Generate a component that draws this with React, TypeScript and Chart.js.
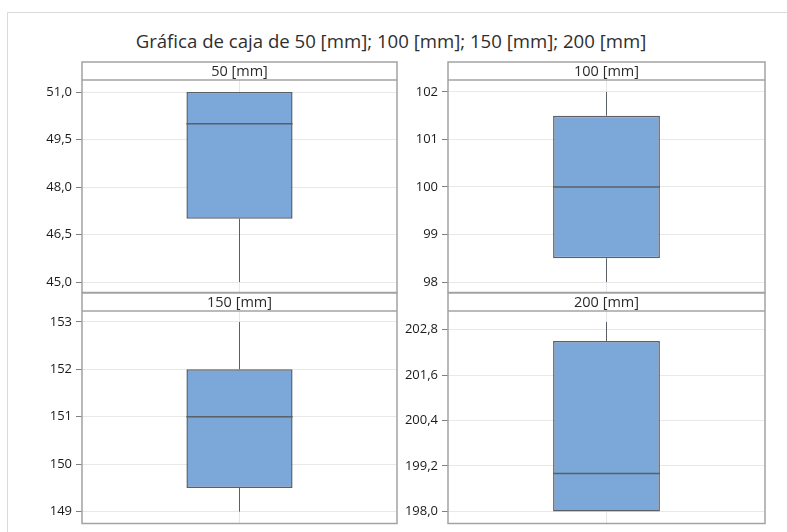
import React, { useEffect, useRef } from "react";
import { Chart, registerables } from "chart.js";

Chart.register(...registerables);

// Box plot summaries, one entry per sample
const panelNames = ["50 [mm]", "100 [mm]", "150 [mm]", "200 [mm]"];
const minValues = [45, 98, 149, 198];
const q1Values = [47, 98.5, 149.5, 198];
const medianValues = [50, 100, 151, 199];
const q3Values = [51, 101.5, 152, 202.5];
const maxValues = [51, 102, 153, 203];

// Value axis of each panel
const axisMin = [44.67, 97.78, 148.75, 197.68];
const axisMax = [51.38, 102.25, 153.23, 203.29];
const ticks50 = [45, 46.5, 48, 49.5, 51];
const ticks100 = [98, 99, 100, 101, 102];
const ticks150 = [149, 150, 151, 152, 153];
const ticks200 = [198, 199.2, 200.4, 201.6, 202.8];
const tickSets = [ticks50, ticks100, ticks150, ticks200];
const tickDecimals = [1, 0, 0, 1];

const titleText = "Gráfica de caja de 50 [mm]; 100 [mm]; 150 [mm]; 200 [mm]";

const FONT = "'Open Sans', 'Noto Sans', sans-serif";
const HEADER_H = 18;
const AXIS_W = 74;
const FRAME = "#a3a3a3";

// Plot rectangles (left, top, right, bottom) of the 2x2 grid
const panelRects = [
  [82, 80, 397, 292.5],
  [448, 80, 764.5, 292.5],
  [82, 310.5, 397, 523],
  [448, 310.5, 764.5, 523],
];

const formatTick = (v: number, d: number) => v.toFixed(d).replace(".", ",");

const boxPlugin = {
  id: "boxWhiskers",
  afterDatasetsDraw(chart: any, _args: any, opts: any) {
    const i = opts.index as number;
    const y = chart.scales.y;
    const bar = chart.getDatasetMeta(0).data[0];
    if (!bar) return;
    const x = bar.x;
    const half = bar.width / 2;
    const ctx = chart.ctx;
    ctx.save();
    ctx.strokeStyle = "#5b5f66";
    ctx.lineWidth = 1;
    // whiskers
    const pMin = y.getPixelForValue(minValues[i]);
    const pQ1 = y.getPixelForValue(q1Values[i]);
    const pQ3 = y.getPixelForValue(q3Values[i]);
    const pMax = y.getPixelForValue(maxValues[i]);
    ctx.beginPath();
    if (pMin - pQ1 > 0.5) {
      ctx.moveTo(x, pQ1);
      ctx.lineTo(x, pMin);
    }
    if (pQ3 - pMax > 0.5) {
      ctx.moveTo(x, pQ3);
      ctx.lineTo(x, pMax);
    }
    ctx.stroke();
    // median
    const pMed = y.getPixelForValue(medianValues[i]);
    ctx.lineWidth = 1.5;
    ctx.beginPath();
    ctx.moveTo(x - half, pMed);
    ctx.lineTo(x + half, pMed);
    ctx.stroke();
    ctx.restore();
  },
  afterDraw(chart: any, _args: any, opts: any) {
    const i = opts.index as number;
    const { left, right, top, bottom } = chart.chartArea;
    const ctx = chart.ctx;
    ctx.save();
    ctx.fillStyle = "#ffffff";
    ctx.fillRect(left, top - HEADER_H, right - left, HEADER_H);
    ctx.strokeStyle = FRAME;
    ctx.lineWidth = 1.5;
    ctx.strokeRect(left, top - HEADER_H, right - left, bottom - top + HEADER_H);
    ctx.beginPath();
    ctx.moveTo(left, top);
    ctx.lineTo(right, top);
    ctx.stroke();
    ctx.fillStyle = "#2b2b2b";
    ctx.font = `14.5px ${FONT}`;
    ctx.textAlign = "center";
    ctx.textBaseline = "middle";
    ctx.fillText(panelNames[i], (left + right) / 2, top - HEADER_H / 2 + 1);
    ctx.restore();
  },
};

function BoxPanel({ index }: { index: number }) {
  const ref = useRef<HTMLCanvasElement | null>(null);
  const [L, T, R, B] = panelRects[index];
  const cLeft = L - AXIS_W;
  const cTop = T - HEADER_H - 2;
  const cWidth = Math.ceil(R - L + AXIS_W + 3);
  const cHeight = Math.ceil(B - cTop + 3);

  useEffect(() => {
    if (!ref.current) return;
    const tickVals = tickSets[index];
    const dec = tickDecimals[index];
    const chart = new Chart(ref.current, {
      type: "bar",
      data: {
        labels: [panelNames[index]],
        datasets: [
          {
            data: [[q1Values[index], q3Values[index]]] as any,
            backgroundColor: "#7ba7d9",
            borderColor: "#5b5f66",
            borderWidth: 1.5,
            borderSkipped: false,
            barPercentage: 0.337,
            categoryPercentage: 1,
          },
        ],
      },
      options: {
        responsive: false,
        animation: false,
        layout: {
          padding: { top: HEADER_H + 2, right: 3, left: 0, bottom: cHeight - (B - cTop) },
        },
        plugins: {
          legend: { display: false },
          tooltip: { enabled: false },
          title: { display: false },
          boxWhiskers: { index },
        } as any,
        scales: {
          x: {
            grid: { display: true, offset: false, color: "#e6e6e6", drawTicks: false },
            ticks: { display: false },
            border: { display: false },
            afterFit: (s: any) => {
              s.height = 0;
              s.paddingLeft = 0;
              s.paddingRight = 0;
            },
          },
          y: {
            min: axisMin[index],
            max: axisMax[index],
            afterBuildTicks: (s: any) => {
              s.ticks = tickVals.map((v) => ({ value: v }));
            },
            ticks: {
              callback: (v: any) => formatTick(Number(v), dec),
              color: "#1a1a1a",
              font: { family: FONT, size: 13 },
              padding: 4,
            },
            grid: { color: "#e8e8e8", tickColor: "#808080", tickLength: 6 },
            border: { display: false },
            afterFit: (s: any) => {
              s.width = AXIS_W;
              s.paddingTop = 0;
              s.paddingBottom = 0;
            },
          },
        },
      },
      plugins: [boxPlugin],
    });
    return () => chart.destroy();
  }, [index]);

  return (
    <canvas
      ref={ref}
      width={cWidth}
      height={cHeight}
      style={{ position: "absolute", left: cLeft, top: cTop, width: cWidth, height: cHeight }}
    />
  );
}

export default function App() {
  return (
    <div
      style={{
        position: "absolute",
        left: 0,
        top: 0,
        width: 787,
        height: 532,
        overflow: "hidden",
        background: "#ffffff",
      }}
    >
      <div
        style={{
          position: "absolute",
          left: 7,
          top: 12,
          width: 790,
          height: 530,
          borderTop: "1px solid #dadada",
          borderLeft: "1px solid #dadada",
        }}
      />
      <div
        style={{
          position: "absolute",
          left: 0,
          top: 29,
          width: 782,
          textAlign: "center",
          fontFamily: FONT,
          fontSize: 18.6,
          lineHeight: "24px",
          color: "#2e2e2e",
        }}
      >
        {titleText}
      </div>
      {panelNames.map((_, i) => (
        <BoxPanel key={i} index={i} />
      ))}
    </div>
  );
}
